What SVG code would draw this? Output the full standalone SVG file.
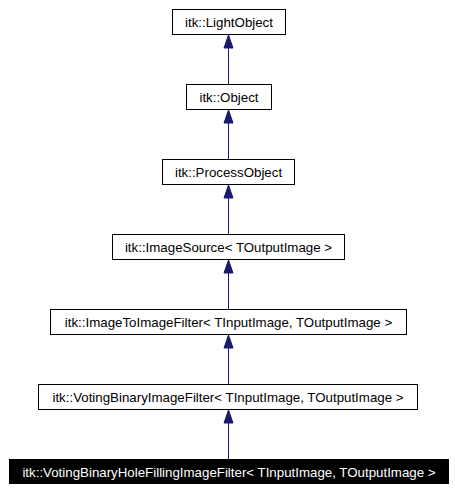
<svg xmlns="http://www.w3.org/2000/svg" width="455" height="490" viewBox="0 0 455 490">
<style>
.box{fill:#ffffff;stroke:#000000;stroke-width:1}
.hl{fill:#000000;stroke:#000000;stroke-width:1}
.t{font-family:"Liberation Sans",Arial,sans-serif;font-size:13.3px;fill:#000000;text-anchor:middle}
.tw{font-family:"Liberation Sans",Arial,sans-serif;font-size:13.3px;fill:#ffffff;text-anchor:middle}
.edge{stroke:#191970;stroke-width:1;fill:none}
.head{fill:#191970;stroke:#191970;stroke-width:1}
</style>
<rect width="455" height="490" fill="#ffffff"/>
<g id="connectors">
<line class="edge" x1="228.5" y1="84" x2="228.5" y2="35"/>
<path class="head" d="M228.5,35 L233,48 L224,48 Z"/>
<line class="edge" x1="228.5" y1="159" x2="228.5" y2="110"/>
<path class="head" d="M228.5,110 L233,123 L224,123 Z"/>
<line class="edge" x1="228.5" y1="234" x2="228.5" y2="185"/>
<path class="head" d="M228.5,185 L233,198 L224,198 Z"/>
<line class="edge" x1="228.5" y1="309" x2="228.5" y2="260"/>
<path class="head" d="M228.5,260 L233,273 L224,273 Z"/>
<line class="edge" x1="228.5" y1="384" x2="228.5" y2="335"/>
<path class="head" d="M228.5,335 L233,348 L224,348 Z"/>
<line class="edge" x1="228.5" y1="459" x2="228.5" y2="410"/>
<path class="head" d="M228.5,410 L233,423 L224,423 Z"/>
</g>
<g id="n1"><rect class="box" x="172.5" y="9.5" width="113" height="25"/><text class="t" x="229" y="27">itk::LightObject</text></g>
<g id="n2"><rect class="box" x="186.5" y="84.5" width="85" height="25"/><text class="t" x="229" y="102">itk::Object</text></g>
<g id="n3"><rect class="box" x="162.5" y="159.5" width="132" height="25"/><text class="t" x="228.5" y="177">itk::ProcessObject</text></g>
<g id="n4"><rect class="box" x="112.5" y="234.5" width="232" height="25"/><text class="t" x="228.5" y="252">itk::ImageSource&lt; TOutputImage &gt;</text></g>
<g id="n5"><rect class="box" x="50.5" y="309.5" width="356" height="25"/><text class="t" x="228.5" y="327">itk::ImageToImageFilter&lt; TInputImage, TOutputImage &gt;</text></g>
<g id="n6"><rect class="box" x="38.5" y="384.5" width="379" height="25"/><text class="t" x="228" y="402">itk::VotingBinaryImageFilter&lt; TInputImage, TOutputImage &gt;</text></g>
<g id="n7"><rect class="hl" x="9.5" y="459.5" width="439" height="24"/><text class="tw" x="229" y="476.5">itk::VotingBinaryHoleFillingImageFilter&lt; TInputImage, TOutputImage &gt;</text></g>
</svg>
